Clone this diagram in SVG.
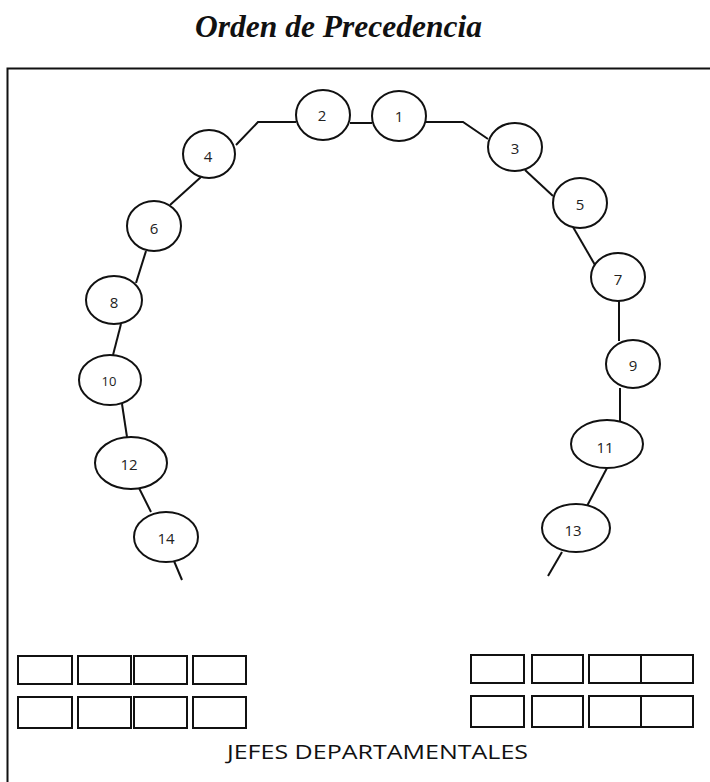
<svg xmlns="http://www.w3.org/2000/svg" width="710" height="782" viewBox="0 0 710 782">
<style>
.title{font-family:"Liberation Serif",serif;font-weight:bold;font-style:italic;font-size:32px;fill:#111}
.node ellipse{fill:#fff;stroke:#111;stroke-width:2}
.node text{font-family:"Open Sans","Liberation Sans",sans-serif;font-size:15px;fill:#222;text-anchor:middle;dominant-baseline:central}
.conn line,.conn polyline{stroke:#111;stroke-width:2;fill:none}
.box{fill:#fff;stroke:#111;stroke-width:2}
.lbl{font-family:"Open Sans","Liberation Sans",sans-serif;font-size:20px;fill:#111}
</style>
<rect width="710" height="782" fill="#fff"/>
<text class="title" x="195" y="37" textLength="287" lengthAdjust="spacingAndGlyphs">Orden de Precedencia</text>
<path d="M7.5 790 V68.5 H720" fill="none" stroke="#111" stroke-width="2"/>
<g class="conn">
<polyline points="296,122 258,122 236,145"/>
<line x1="350" y1="123" x2="372" y2="123"/>
<polyline points="426,122 463,122 488,139"/>
<line x1="201" y1="177" x2="170" y2="205"/>
<line x1="146" y1="251" x2="136" y2="283"/>
<line x1="121" y1="324" x2="113" y2="355"/>
<line x1="122" y1="404" x2="127" y2="437"/>
<line x1="139" y1="488" x2="151" y2="512"/>
<line x1="174" y1="561" x2="182" y2="580"/>
<line x1="525" y1="170" x2="553" y2="196"/>
<line x1="573" y1="227" x2="595" y2="265"/>
<line x1="619" y1="301" x2="619" y2="341"/>
<line x1="620" y1="388" x2="620" y2="421"/>
<line x1="607" y1="468" x2="587" y2="506"/>
<line x1="562" y1="552" x2="548" y2="576"/>
</g>
<g id="n1" class="node"><ellipse cx="399" cy="116" rx="27" ry="25"/><text x="399" y="116">1</text></g>
<g id="n2" class="node"><ellipse cx="323" cy="115" rx="27" ry="25"/><text x="322" y="115">2</text></g>
<g id="n3" class="node"><ellipse cx="515" cy="147" rx="27" ry="24"/><text x="515" y="148">3</text></g>
<g id="n4" class="node"><ellipse cx="209" cy="154" rx="26" ry="24"/><text x="208" y="156">4</text></g>
<g id="n5" class="node"><ellipse cx="580" cy="203" rx="27" ry="25"/><text x="580" y="204">5</text></g>
<g id="n6" class="node"><ellipse cx="154" cy="226" rx="27" ry="25"/><text x="154" y="228">6</text></g>
<g id="n7" class="node"><ellipse cx="618" cy="277" rx="27" ry="24"/><text x="618" y="279">7</text></g>
<g id="n8" class="node"><ellipse cx="114" cy="300" rx="28" ry="24"/><text x="114" y="302">8</text></g>
<g id="n9" class="node"><ellipse cx="633" cy="364" rx="27" ry="24"/><text x="633" y="365">9</text></g>
<g id="n10" class="node"><ellipse cx="110" cy="380" rx="31" ry="25"/><text x="109" y="381" style="font-size:13px">10</text></g>
<g id="n11" class="node"><ellipse cx="607" cy="444" rx="36" ry="24"/><text x="605" y="447">11</text></g>
<g id="n12" class="node"><ellipse cx="131" cy="463" rx="36" ry="26"/><text x="129" y="464">12</text></g>
<g id="n13" class="node"><ellipse cx="576" cy="528" rx="34" ry="24"/><text x="573" y="530">13</text></g>
<g id="n14" class="node"><ellipse cx="166" cy="537" rx="32" ry="25"/><text x="166" y="538">14</text></g>
<g id="jefes">
<rect class="box" x="18" y="656" width="54" height="28"/>
<rect class="box" x="78" y="656" width="53" height="28"/>
<rect class="box" x="134" y="656" width="53" height="28"/>
<rect class="box" x="193" y="656" width="53" height="28"/>
<rect class="box" x="18" y="697" width="54" height="31"/>
<rect class="box" x="78" y="697" width="53" height="31"/>
<rect class="box" x="134" y="697" width="53" height="31"/>
<rect class="box" x="193" y="697" width="53" height="31"/>
<rect class="box" x="471" y="655" width="53" height="28"/>
<rect class="box" x="532" y="655" width="51" height="28"/>
<rect class="box" x="589" y="655" width="52" height="28"/>
<rect class="box" x="641" y="655" width="52" height="28"/>
<rect class="box" x="471" y="696" width="53" height="31"/>
<rect class="box" x="532" y="696" width="51" height="31"/>
<rect class="box" x="589" y="696" width="52" height="31"/>
<rect class="box" x="641" y="696" width="52" height="31"/>
<text class="lbl" x="227" y="759" textLength="301" lengthAdjust="spacingAndGlyphs">JEFES DEPARTAMENTALES</text>
</g>
</svg>
